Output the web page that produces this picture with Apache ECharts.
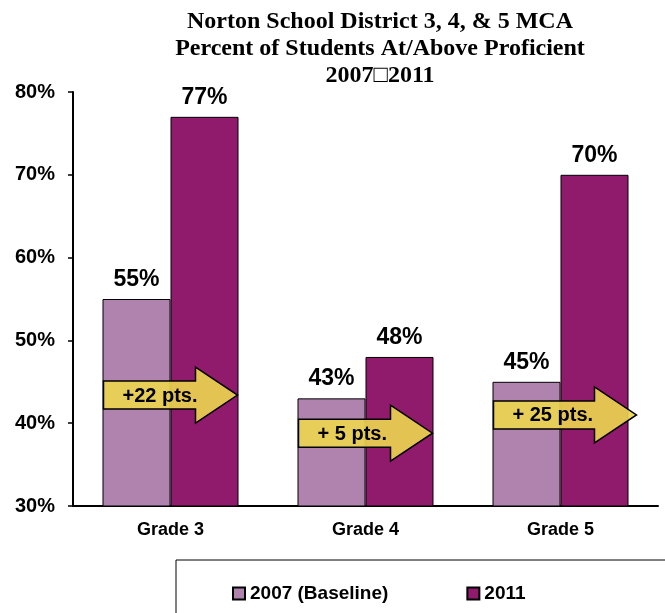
<!DOCTYPE html>
<html>
<head>
<meta charset="utf-8">
<script src="https://cdn.jsdelivr.net/npm/echarts@6/dist/echarts.min.js"></script>
<style>
  html, body { margin: 0; padding: 0; background: #fff; }
  #main { width: 665px; height: 613px; }
</style>
</head>
<body>
<div id="main"></div>
<script>
var grades = ['Grade 3', 'Grade 4', 'Grade 5'];
var base2007 = [55, 43, 45];
var year2011 = [77, 48, 70];
var yTicks = [30, 40, 50, 60, 70, 80];
// gain arrows: level on the y scale and label
var arrowLevel = [43.4, 38.8, 41.0];
var arrowText = ['+22 pts.', '+ 5 pts.', '+ 25 pts.'];

var BAR_W = 68;
var FONT = 'Arial, "Liberation Sans", sans-serif';

var chart = echarts.init(document.getElementById('main'));

function renderArrow(params, api) {
	var c = api.coord([api.value(0), api.value(1)]);
	var left = c[0] - BAR_W + 1, right = c[0] + BAR_W - 1;
	if (params.dataIndex == 2) right += 9;
	var y = c[1], bh = 14, hh = 28, hl = 42;
	var hx = right - hl;
	return {
		type: 'group',
		children: [
			{
				type: 'polygon',
				shape: { points: [
					[left, y - bh], [hx, y - bh], [hx, y - hh], [right, y],
					[hx, y + hh], [hx, y + bh], [left, y + bh]
				] },
				style: { fill: 'rgba(236,214,80,0.9)', stroke: '#000', lineWidth: 1.5 }
			},
			{
				type: 'text',
				style: {
					text: arrowText[params.dataIndex],
					x: left + 19, y: y + 1,
					verticalAlign: 'middle', align: 'left',
					fontFamily: FONT, fontWeight: 'bold', fontSize: 20, fill: '#000'
				}
			}
		]
	};
}

chart.setOption({
	animation: false,
	title: {
		text: 'Norton School District 3, 4, & 5 MCA\nPercent of Students At/Above Proficient\n2007\u25A12011',
		left: 375, top: 3, textAlign: 'center',
		textStyle: {
			fontFamily: '"Times New Roman", "Liberation Serif", serif',
			fontWeight: 'bold', fontSize: 24, lineHeight: 27, color: '#000'
		}
	},
	grid: { left: 73, right: 7, top: 92, bottom: 107 },
	legend: {
		data: ['2007 (Baseline)', '2011'],
		left: 176, top: 560, width: 600,
		padding: [24, 200, 40, 56],
		itemGap: 78,
		itemWidth: 12, itemHeight: 12,
		borderColor: '#000', borderWidth: 1,
		icon: 'rect',
		textStyle: { fontFamily: FONT, fontWeight: 'bold', fontSize: 19, color: '#000' }
	},
	xAxis: {
		type: 'category',
		data: grades,
		axisLine: { lineStyle: { color: '#000', width: 2 } },
		axisTick: { length: 6, lineStyle: { color: '#000', width: 1.5 } },
		axisLabel: { margin: 15, color: '#000', fontFamily: FONT, fontWeight: 'bold', fontSize: 18 }
	},
	yAxis: {
		type: 'value',
		min: yTicks[0], max: yTicks[yTicks.length - 1], interval: 10,
		splitLine: { show: false },
		axisLine: { show: true, lineStyle: { color: '#000', width: 2 } },
		axisTick: { show: true, length: 5, lineStyle: { color: '#000', width: 1.5 } },
		axisLabel: { formatter: '{value}%', margin: 18, color: '#000', fontFamily: FONT, fontWeight: 'bold', fontSize: 20 }
	},
	series: [
		{
			name: '2007 (Baseline)', type: 'bar', data: base2007,
			barWidth: BAR_W, barGap: '0%',
			itemStyle: { color: '#B083AE', borderColor: '#000', borderWidth: 1 },
			label: {
				show: true, position: 'top', distance: 8, formatter: '{c}%', color: '#000',
				fontFamily: FONT, fontWeight: 'bold', fontSize: 23
			}
		},
		{
			name: '2011', type: 'bar', data: year2011,
			barWidth: BAR_W,
			itemStyle: { color: '#901A6C', borderColor: '#000', borderWidth: 1 },
			label: {
				show: true, position: 'top', distance: 8, formatter: '{c}%', color: '#000',
				fontFamily: FONT, fontWeight: 'bold', fontSize: 23
			}
		},
		{
			name: 'gain', type: 'custom', z: 5,
			data: arrowLevel.map(function (v, i) { return [i, v]; }),
			renderItem: renderArrow,
			silent: true
		}
	]
});
</script>
</body>
</html>
